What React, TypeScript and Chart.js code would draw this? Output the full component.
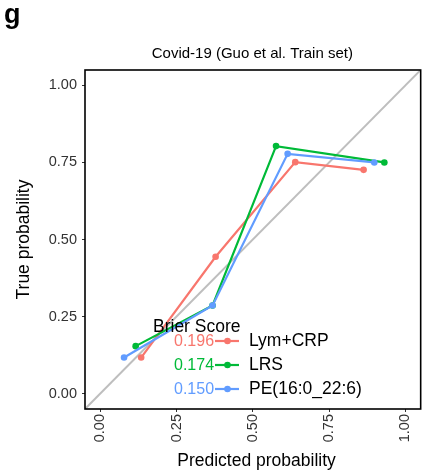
import React, { useEffect, useRef } from "react";
import { Chart, registerables } from "chart.js";

Chart.register(...registerables);

// Calibration curves: predicted probability (x) vs observed probability (y)
const SERIES_NAMES = ["Lym+CRP", "LRS", "PE(16:0_22:6)"];
const BRIER_SCORES = ["0.196", "0.174", "0.150"];
const SERIES_COLORS = ["#F8766D", "#00BA38", "#619CFF"];

const LYM_CRP_PRED = [0.134, 0.378, 0.639, 0.863];
const LYM_CRP_TRUE = [0.117, 0.444, 0.751, 0.726];
const LRS_PRED = [0.116, 0.368, 0.576, 0.931];
const LRS_TRUE = [0.154, 0.286, 0.803, 0.75];
const PE_PRED = [0.078, 0.368, 0.614, 0.898];
const PE_TRUE = [0.117, 0.286, 0.778, 0.75];

const AXIS_TICKS = [0, 0.25, 0.5, 0.75, 1];
const AXIS_MIN = -0.05;
const AXIS_MAX = 1.05;

const PANEL_TAG = "g";
const TITLE = "Covid-19 (Guo et al. Train set)";
const X_TITLE = "Predicted probability";
const Y_TITLE = "True probability";
const LEGEND_TITLE = "Brier Score";

const FONT = "'Liberation Sans', Arial, Helvetica, sans-serif";

const toPoints = (xs: number[], ys: number[]) => xs.map((x, i) => ({ x, y: ys[i] }));

const decorations = {
  id: "decorations",
  afterDatasetsDraw(chart: Chart) {
    const { ctx, chartArea } = chart;
    ctx.save();
    ctx.strokeStyle = "#000000";
    ctx.lineWidth = 1.6;
    ctx.strokeRect(
      chartArea.left,
      chartArea.top,
      chartArea.right - chartArea.left,
      chartArea.bottom - chartArea.top
    );
    ctx.restore();
  },
  afterDraw(chart: Chart) {
    const { ctx, chartArea } = chart;
    ctx.save();
    ctx.fillStyle = "#000000";

    // panel tag
    ctx.font = `bold 27px ${FONT}`;
    ctx.textAlign = "left";
    ctx.textBaseline = "alphabetic";
    ctx.fillText(PANEL_TAG, 4, 23);

    // title
    ctx.font = `15px ${FONT}`;
    ctx.textAlign = "center";
    ctx.fillText(TITLE, (chartArea.left + chartArea.right) / 2 - 0.5, 58);

    // axis titles
    ctx.font = `17.5px ${FONT}`;
    ctx.fillText(X_TITLE, 256.5, 466);
    ctx.save();
    ctx.translate(28.5, (chartArea.top + chartArea.bottom) / 2);
    ctx.rotate(-Math.PI / 2);
    ctx.fillText(Y_TITLE, 0, 0);
    ctx.restore();

    // legend
    ctx.textAlign = "left";
    ctx.textBaseline = "middle";
    ctx.font = `17.5px ${FONT}`;
    ctx.fillStyle = "#000000";
    ctx.fillText(LEGEND_TITLE, 153, 327.5);
    const rowY = [341, 365, 389];
    SERIES_NAMES.forEach((name, i) => {
      const y = rowY[i];
      const color = SERIES_COLORS[i];
      ctx.font = `16px ${FONT}`;
      ctx.fillStyle = color;
      ctx.fillText(BRIER_SCORES[i], 174, y + 0.5);
      ctx.strokeStyle = color;
      ctx.lineWidth = 2.2;
      ctx.beginPath();
      ctx.moveTo(215, y);
      ctx.lineTo(239, y);
      ctx.stroke();
      ctx.beginPath();
      ctx.arc(227.5, y, 3.3, 0, Math.PI * 2);
      ctx.fill();
      ctx.fillStyle = "#000000";
      ctx.font = `17.5px ${FONT}`;
      ctx.fillText(name, 249, y + 0.5);
    });
    ctx.restore();
  },
};

export default function App() {
  const canvasRef = useRef<HTMLCanvasElement | null>(null);

  useEffect(() => {
    const canvas = canvasRef.current;
    if (!canvas) return;

    const seriesData = [
      toPoints(LYM_CRP_PRED, LYM_CRP_TRUE),
      toPoints(LRS_PRED, LRS_TRUE),
      toPoints(PE_PRED, PE_TRUE),
    ];

    const tickFont = { family: FONT, size: 14.5 };

    const chart = new Chart(canvas, {
      type: "scatter",
      data: {
        datasets: [
          {
            label: "reference",
            data: [
              { x: AXIS_MIN, y: AXIS_MIN },
              { x: AXIS_MAX, y: AXIS_MAX },
            ],
            showLine: true,
            borderColor: "#BEBEBE",
            borderWidth: 2,
            pointRadius: 0,
            order: 10,
          },
          ...SERIES_NAMES.map((name, i) => ({
            label: name,
            data: seriesData[i],
            showLine: true,
            borderColor: SERIES_COLORS[i],
            backgroundColor: SERIES_COLORS[i],
            borderWidth: 2.2,
            pointRadius: 3.3,
            pointBorderWidth: 0,
            order: 3 - i,
          })),
        ],
      },
      options: {
        animation: false,
        responsive: false,
        devicePixelRatio: 1,
        layout: { padding: { top: 70, right: 0.6, left: 0, bottom: 0 } },
        plugins: {
          legend: { display: false },
          tooltip: { enabled: false },
          title: { display: false },
        },
        scales: {
          x: {
            type: "linear",
            min: AXIS_MIN,
            max: AXIS_MAX,
            afterBuildTicks: (s: any) => {
              s.ticks = AXIS_TICKS.map((v) => ({ value: v }));
            },
            afterFit: (s: any) => {
              s.height = 66;
            },
            grid: {
              drawOnChartArea: false,
              drawTicks: true,
              tickLength: 3,
              color: "#333333",
              lineWidth: 1,
            },
            border: { display: false },
            ticks: {
              autoSkip: false,
              minRotation: 90,
              maxRotation: 90,
              padding: 2,
              color: "#333333",
              font: tickFont,
              callback: (v: any) => Number(v).toFixed(2),
            },
          },
          y: {
            type: "linear",
            min: AXIS_MIN,
            max: AXIS_MAX,
            afterBuildTicks: (s: any) => {
              s.ticks = AXIS_TICKS.map((v) => ({ value: v }));
            },
            afterFit: (s: any) => {
              s.width = 85;
            },
            grid: {
              drawOnChartArea: false,
              drawTicks: true,
              tickLength: 3,
              color: "#333333",
              lineWidth: 1,
            },
            border: { display: false },
            ticks: {
              padding: 5,
              color: "#333333",
              font: tickFont,
              callback: (v: any) => Number(v).toFixed(2),
            },
          },
        },
      },
      plugins: [decorations],
    } as any);

    return () => chart.destroy();
  }, []);

  return (
    <div
      style={{
        position: "fixed",
        left: 0,
        top: 0,
        width: 423,
        height: 475,
        overflow: "hidden",
        background: "#ffffff",
      }}
    >
      <canvas
        ref={canvasRef}
        width={425}
        height={475}
        style={{ width: 425, height: 475, display: "block" }}
      />
    </div>
  );
}
